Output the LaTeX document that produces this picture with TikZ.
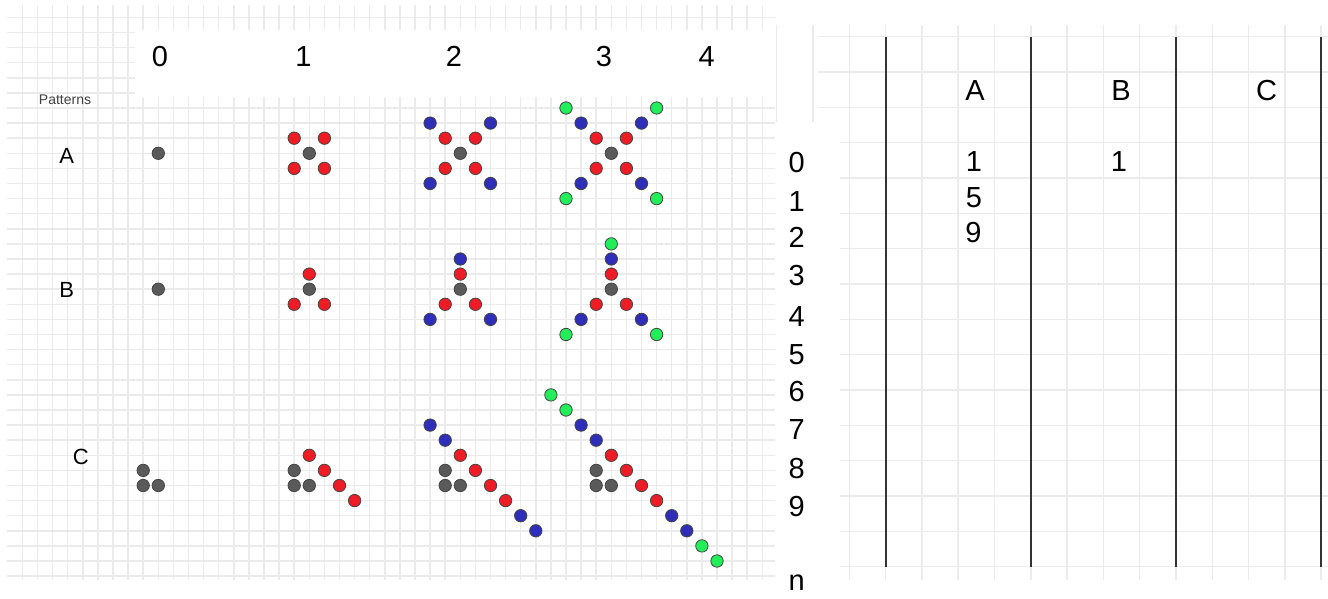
\documentclass[tikz,border=0pt]{standalone}
\usepackage{fontspec}
\setmainfont{Liberation Sans}
\usetikzlibrary{positioning}

\definecolor{gridgray}{HTML}{EBEBEB}
\definecolor{dotedge}{HTML}{454545}
\definecolor{dotgray}{HTML}{5A5A5A}
\definecolor{dotred}{HTML}{EE1C24}
\definecolor{dotblue}{HTML}{2E2EB8}
\definecolor{dotgreen}{HTML}{22EE5A}

\tikzset{
  gridline/.style={draw=gridgray,line width=0.75pt},
  colline/.style={draw=black!80,line width=1pt},
  bead/.style={draw=dotedge,line width=0.4pt},
  biglbl/.style={inner sep=0pt,font=\fontsize{14.5}{16}\selectfont},
  midlbl/.style={inner sep=0pt,font=\fontsize{11}{13}\selectfont},
}

\begin{document}
\begin{tikzpicture}[x=0.5pt,y=-0.5pt]
\useasboundingbox (0,0) rectangle (1328,599);

% left sheet: grid paper
\foreach \k in {-9,...,40}
  \draw[gridline] ({158.3+15.1*\k},5) -- ({158.3+15.1*\k},580);
\foreach \j in {-9,...,28}
  \draw[gridline] (7,{153.3+15.1*\j}) -- (775,{153.3+15.1*\j});
\fill[white] (135,30) rectangle (777,97);

% right sheet: grid paper and columns
\foreach \m in {0,...,15}
  \draw[gridline] ({776.7+36.3*\m},25) -- ({776.7+36.3*\m},580);
\foreach \n in {0,...,15}
  \draw[gridline] (818,{36.7+35.33*\n}) -- (1328,{36.7+35.33*\n});
\fill[white] (776,122) rectangle (840,599);
\foreach \m in {3,7,11,15}
  \draw[colline] ({776.7+36.3*\m},36.7) -- ({776.7+36.3*\m},566.7);

% headings
\node[biglbl] (c0) at (160,56.5) {0};
\node[biglbl] (c1) at (303.5,56.5) {1};
\node[biglbl] (c2) at (454,56.5) {2};
\node[biglbl] (c3) at (604,56.5) {3};
\node[biglbl] (c4) at (706.7,56.5) {4};
\node[inner sep=0pt,font=\fontsize{7}{8}\selectfont,text=black!75] (patterns) at (65,100) {Patterns};
\node[midlbl] (pA) at (66.7,156) {A};
\node[midlbl] (pB) at (66.7,290) {B};
\node[midlbl] (pC) at (80.7,456.7) {C};

% row numbers
\foreach \r/\y in {0/162.7,1/201.7,2/237.7,3/276,4/316.7,5/355,6/391.7,7/430,8/468.3,9/506.7}
  \node[biglbl] (row\r) at (796.7,\y) {\r};
\node[biglbl] (rown) at (796.7,583) {n};

% table
\node[biglbl] (tA) at (975,90.7) {A};
\node[biglbl] (tB) at (1121,90.7) {B};
\node[biglbl] (tC) at (1266.7,90.7) {C};
\node[biglbl] (a0) at (974,162) {1};
\node[biglbl] (a1) at (974,197.3) {5};
\node[biglbl] (a2) at (973.5,232.5) {9};
\node[biglbl] (b0) at (1119,162) {1};

% dots, one grid step per unit
\begin{scope}[shift={(79.15pt,-76.65pt)},x=7.55pt,y=-7.55pt]
  % cores
  \foreach \c in {0,...,3} {
    \filldraw[bead,fill=dotgray] (10*\c,0) circle[radius=3.1pt];
    \filldraw[bead,fill=dotgray] (10*\c,9) circle[radius=3.1pt];
    \foreach \p in {(10*\c-1,21),(10*\c-1,22),(10*\c,22)}
      \filldraw[bead,fill=dotgray] \p circle[radius=3.1pt];
  }
  % rings
  \foreach \r/\col in {1/dotred,2/dotblue,3/dotgreen}
    \foreach \c in {\r,...,3} {
      \foreach \sx/\sy in {-1/-1,1/-1,-1/1,1/1}
        \filldraw[bead,fill=\col] ({10*\c+\sx*\r},{\sy*\r}) circle[radius=3.1pt];
      \foreach \p in {({10*\c},{9-\r}),({10*\c-\r},{9+\r}),({10*\c+\r},{9+\r})}
        \filldraw[bead,fill=\col] \p circle[radius=3.1pt];
      \foreach \p in {({10*\c-2*\r+2},{22-2*\r}),({10*\c-2*\r+3},{23-2*\r}),
                      ({10*\c+2*\r},{20+2*\r}),({10*\c+2*\r+1},{21+2*\r})}
        \filldraw[bead,fill=\col] \p circle[radius=3.1pt];
    }
\end{scope}
\end{tikzpicture}
\end{document}
